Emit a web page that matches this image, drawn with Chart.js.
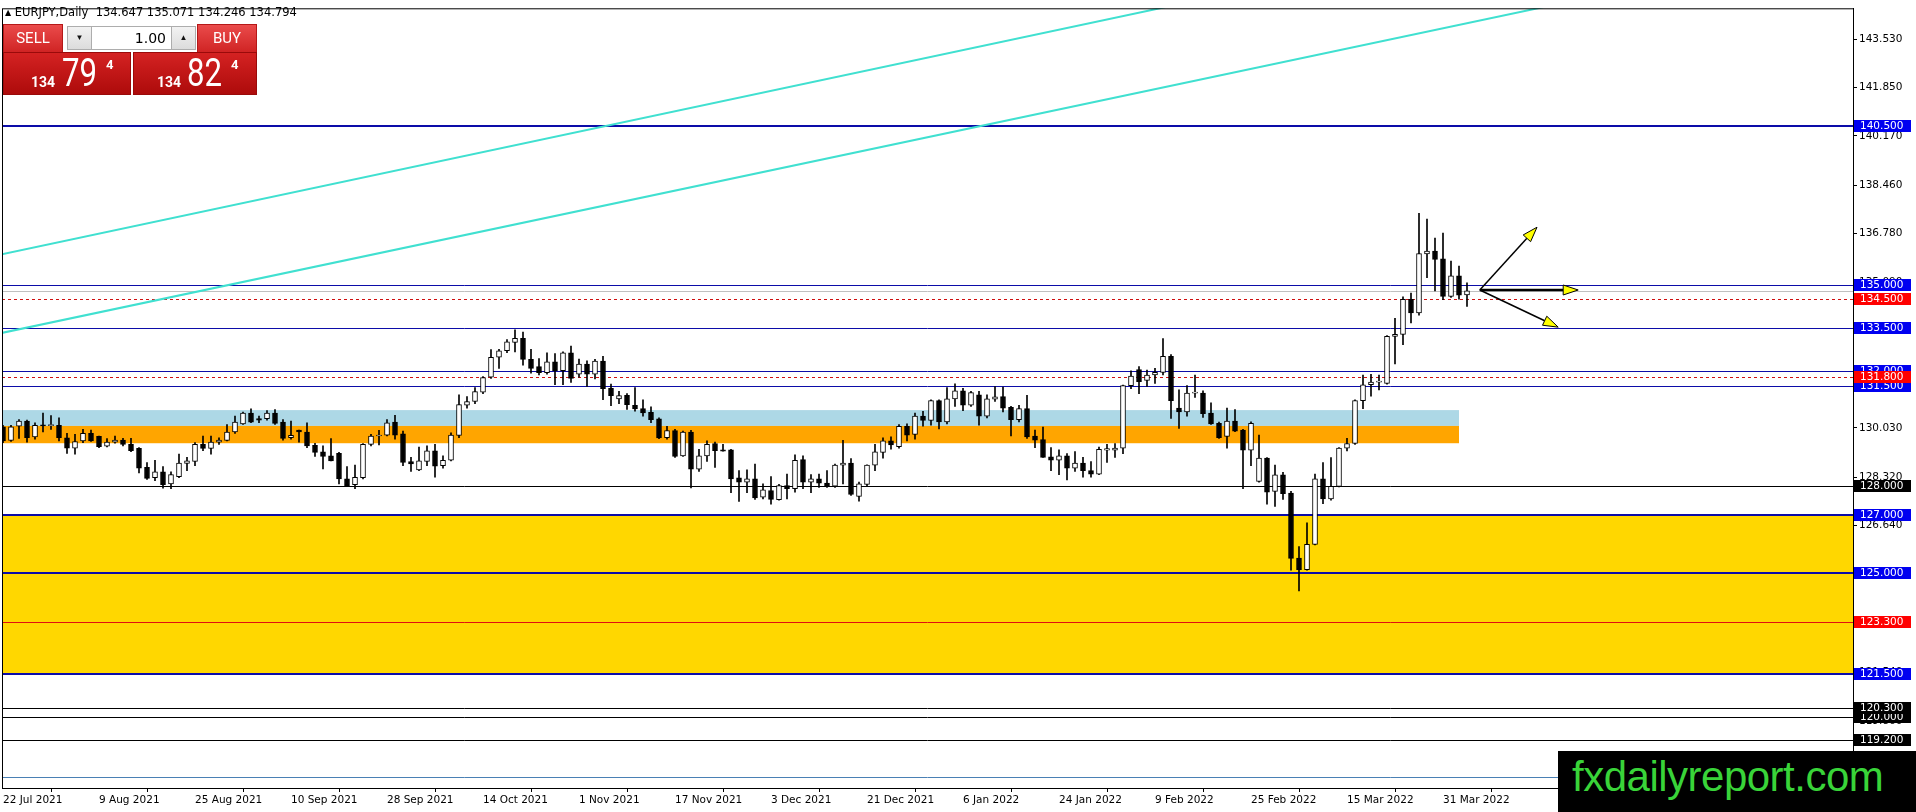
<!DOCTYPE html>
<html lang="en">
<head>
<meta charset="UTF-8">
<title>EURJPY Daily</title>
<script src="https://cdn.jsdelivr.net/npm/chart.js"></script>
<style>
  body { margin: 0; padding: 0; background: #fff; }
  #wrap { position: relative; width: 1916px; height: 812px; overflow: hidden; }
  #wrap canvas { position: absolute; left: 0; top: 0; }
  .hdr { position: absolute; left: 5px; top: 5px; font: 11.5px "DejaVu Sans", sans-serif; color: #000; white-space: pre; }
  .hdr .tri { font-size: 8px; position: relative; top: -1px; }
  .abs { position: absolute; box-sizing: border-box; }
  .btn { background: linear-gradient(#ea4b4b, #d02424); color: #fff; font: 15px Roboto, sans-serif;
         text-align: center; line-height: 27px; border: 1px solid #b51818; border-bottom: 1px solid #f2a3a3; }
  .spin { background: linear-gradient(#f2f2f2, #dcdcdc); border: 1px solid #adadad; font-size: 8px; text-align: center; line-height: 22px; color: #111; }
  .lot { background: #fff; border-top: 1px solid #adadad; border-bottom: 1px solid #adadad; font: 14px "DejaVu Sans", sans-serif;
         text-align: right; padding-right: 6px; line-height: 22px; color: #000; }
  .pbox { background: linear-gradient(#d42222, #ad0b0b); border: 1px solid #9a0a0a; }
  .pt { position: absolute; color: #fff; font-family: Roboto, sans-serif; white-space: pre; }
  .small { font-size: 14px; font-weight: bold; }
  .big { font-size: 39px; transform: scaleX(0.8); transform-origin: left top; }
  .sup { font-size: 13px; font-weight: bold; }
  .wm { position: absolute; left: 1558px; top: 751px; width: 358px; height: 61px; background: #000; }
  .wm span { position: absolute; left: 14px; top: 0; font: 42px "Liberation Sans", Arial, sans-serif; color: #39d439; line-height: 52px; letter-spacing: -0.5px; }
</style>
</head>
<body>
<div id="wrap">
  <canvas id="chart" width="1916" height="812"></canvas>

  <div class="hdr"><span class="tri">▲</span> EURJPY,Daily  134.647 135.071 134.246 134.794</div>

  <!-- panel de operación en un clic -->
  <div class="abs btn" style="left:3px;top:24px;width:60px;height:29px;">SELL</div>
  <div class="abs spin" style="left:67px;top:26px;width:25px;height:24px;">▼</div>
  <div class="abs lot" style="left:92px;top:26px;width:80px;height:24px;">1.00</div>
  <div class="abs spin" style="left:171px;top:26px;width:25px;height:24px;">▲</div>
  <div class="abs btn" style="left:197px;top:24px;width:60px;height:29px;">BUY</div>
  <div class="abs pbox" style="left:3px;top:52px;width:128px;height:43px;"></div>
  <div class="abs pbox" style="left:133px;top:52px;width:124px;height:43px;"></div>
  <span class="pt small" style="left:31px;top:74px;">134</span>
  <span class="pt big" style="left:62px;top:50px;">79</span>
  <span class="pt sup" style="left:106px;top:57px;">4</span>
  <span class="pt small" style="left:157px;top:74px;">134</span>
  <span class="pt big" style="left:187px;top:50px;">82</span>
  <span class="pt sup" style="left:231px;top:57px;">4</span>

  <div class="wm"><span>fxdailyreport.com</span></div>
</div>

<script>
// Fechas del eje X (una etiqueta cada 12 velas)
const dateLabels = ['22 Jul 2021', '9 Aug 2021', '25 Aug 2021', '10 Sep 2021', '28 Sep 2021', '14 Oct 2021',
  '1 Nov 2021', '17 Nov 2021', '3 Dec 2021', '21 Dec 2021', '6 Jan 2022', '24 Jan 2022',
  '9 Feb 2022', '25 Feb 2022', '15 Mar 2022', '31 Mar 2022'];
const labelEvery = 12;

// Velas diarias EURJPY
const opens = [130.07,129.60,130.09,130.27,129.72,130.12,130.11,130.12,129.69,129.33,129.58,129.84,129.74,129.40,129.54,129.61,129.46,129.32,128.66,128.30,
  128.51,128.09,128.34,128.80,128.87,129.46,129.32,129.54,129.60,129.89,130.17,130.55,130.36,130.35,130.55,130.23,129.69,129.96,129.89,129.43,
  129.20,129.06,129.15,128.26,128.06,128.30,129.46,129.75,129.78,130.23,129.83,128.86,128.57,128.87,129.24,128.72,128.91,129.77,130.82,130.95,
  131.27,131.79,132.49,132.71,133.00,133.14,132.41,132.16,131.95,132.33,132.02,132.64,131.90,132.25,131.90,132.35,131.41,131.04,131.16,130.82,
  130.70,130.57,130.35,129.69,129.94,129.06,129.89,128.60,129.06,129.49,129.27,129.27,128.30,128.15,128.26,127.63,127.86,127.54,128.03,127.92,
  128.93,128.15,128.26,128.12,128.01,128.74,128.81,127.65,128.07,128.74,129.18,129.58,129.38,130.09,129.81,130.44,130.29,130.98,130.24,131.04,
  131.32,130.82,131.18,130.44,131.03,131.12,130.75,130.32,130.70,129.75,129.63,129.03,128.91,129.06,128.63,128.81,128.55,128.43,129.26,129.26,
  129.33,131.50,132.06,131.68,131.87,131.96,132.52,130.72,130.59,131.24,131.24,130.55,130.19,129.74,130.27,129.96,129.26,128.17,128.98,127.83,
  128.40,127.77,125.51,125.11,125.99,128.26,127.57,128.00,129.33,129.49,130.98,131.53,131.62,131.58,133.21,133.28,134.50,134.02,136.07,136.17,
  135.90,134.60,135.31,134.647];
const highs = [130.12,130.12,130.32,130.30,130.21,130.55,130.46,130.38,129.84,129.81,129.98,129.96,129.75,129.66,129.75,129.67,129.67,129.35,128.83,128.91,
  128.69,128.51,129.12,129.01,129.52,129.75,129.75,129.69,130.15,130.44,130.58,130.69,130.44,130.63,130.67,130.32,130.27,129.96,130.21,129.50,
  129.41,129.66,129.18,128.69,128.74,129.49,129.81,129.95,130.32,130.47,129.92,129.01,129.37,129.41,129.46,129.06,129.86,131.18,131.12,131.43,
  131.81,132.75,132.76,133.10,133.44,133.36,132.76,132.44,132.64,132.61,132.67,132.87,132.42,132.36,132.41,132.52,131.55,131.30,131.22,131.43,
  131.01,130.76,130.38,130.09,129.98,129.92,129.95,129.29,129.58,129.54,129.46,129.29,128.55,128.58,128.78,128.09,128.34,128.07,128.43,129.10,
  129.06,128.41,128.43,128.55,128.78,129.60,128.97,128.15,128.75,129.46,129.69,129.72,130.15,130.17,130.55,130.61,131.01,131.01,131.43,131.56,
  131.41,131.30,131.30,131.18,131.47,131.45,130.78,130.82,131.16,129.96,130.06,129.35,129.27,129.14,129.21,129.01,128.86,129.37,129.46,129.49,
  131.52,132.01,132.16,132.04,132.10,133.13,132.58,131.35,131.50,131.87,131.32,130.90,130.23,130.72,130.67,129.98,130.24,129.78,129.00,128.74,
  128.49,127.83,125.91,126.74,128.43,128.83,129.00,129.35,129.67,131.01,131.87,131.89,131.87,133.24,133.84,134.58,134.71,137.48,137.28,136.62,
  136.80,135.82,135.65,135.071];
const lows = [129.52,129.56,129.67,129.54,129.64,129.89,129.98,129.58,129.15,129.12,129.52,129.56,129.35,129.37,129.50,129.41,129.21,128.47,128.24,128.20,
  127.94,127.92,128.30,128.55,128.72,129.24,129.12,129.46,129.58,129.84,130.15,130.21,130.21,130.30,130.15,129.61,129.64,129.54,129.35,129.04,
  128.61,128.89,128.09,128.01,127.92,128.26,129.41,129.44,129.75,129.64,128.72,128.52,128.55,128.72,128.32,128.63,128.89,129.69,130.72,130.87,
  131.22,131.75,132.10,132.64,132.67,132.21,131.93,131.87,131.90,131.53,131.53,131.61,131.79,131.47,131.73,131.01,130.80,130.87,130.67,130.61,
  130.44,130.21,129.66,129.64,129.01,129.04,127.95,128.52,128.87,128.66,129.22,127.78,127.48,127.78,127.55,127.57,127.38,127.52,127.57,127.80,
  127.92,127.78,127.97,127.97,127.97,128.09,127.69,127.49,128.01,128.55,128.98,129.29,129.33,129.58,129.64,130.09,130.13,130.00,130.17,130.78,
  130.63,130.78,130.13,130.38,130.95,130.59,129.75,130.24,129.67,129.35,129.01,128.55,128.41,128.23,128.52,128.32,128.32,128.41,128.83,129.01,
  129.14,131.39,131.22,131.47,131.58,131.87,130.36,130.01,130.44,131.09,130.40,130.15,129.67,129.33,129.90,127.92,128.72,128.15,127.38,127.31,
  127.55,125.09,124.37,125.09,125.97,127.40,127.52,127.98,129.23,129.46,130.70,131.13,131.35,131.55,132.25,132.92,133.68,133.95,135.25,134.79,
  134.48,134.56,134.50,134.246];
const closes = [129.58,130.07,130.27,129.69,130.12,130.10,130.12,129.69,129.33,129.56,129.84,129.58,129.38,129.54,129.61,129.46,129.24,128.63,128.28,128.51,
  128.06,128.41,128.81,128.89,129.46,129.32,129.54,129.61,129.89,130.23,130.55,130.23,130.30,130.55,130.19,129.67,129.77,129.89,129.41,129.18,
  129.04,128.89,128.26,128.03,128.32,129.46,129.75,129.78,130.21,129.78,128.83,128.78,128.89,129.24,128.70,128.91,129.78,130.84,130.95,131.29,
  131.78,132.48,132.71,133.02,133.14,132.41,132.10,131.95,132.33,132.02,132.64,131.75,132.25,131.90,132.35,131.39,131.15,131.15,130.84,130.69,
  130.55,130.32,129.68,129.94,129.04,129.89,128.60,129.06,129.46,129.24,129.22,128.26,128.15,128.26,127.60,127.88,127.55,128.03,127.92,128.91,
  128.15,128.26,128.11,128.01,128.74,128.81,127.72,128.09,128.74,129.20,129.58,129.44,130.09,129.78,130.44,130.29,130.98,130.24,131.04,131.32,
  130.82,131.26,130.44,131.04,131.11,130.72,130.32,130.70,129.72,129.61,129.01,128.91,129.06,128.63,128.81,128.55,128.43,129.29,129.31,129.33,
  131.50,131.83,131.64,131.87,131.96,132.52,130.98,130.59,131.24,131.25,130.53,130.17,129.69,130.27,129.92,129.26,130.19,128.98,127.80,128.40,
  127.75,125.50,125.11,125.99,128.26,127.57,128.00,129.33,129.49,130.98,131.53,131.62,131.62,133.21,133.28,134.50,134.02,136.08,136.17,135.88,
  134.60,135.31,134.64,134.794];

// Escala de precios (eje derecho)
const priceTicks = [143.53, 141.85, 140.17, 138.46, 136.78, 135.09, 133.38, 131.69, 130.03, 128.32, 126.64, 124.93, 123.25, 121.54, 119.86, 118.15];

// Líneas horizontales
const levelPrices = [140.5, 135.0, 134.794, 134.5, 133.5, 132.0, 131.5, 131.8, 128.0, 127.0, 125.0, 123.3, 121.5, 120.0, 120.3, 119.2, 117.9];
const levelColors = ['#0c0ca8', '#0c0ca8', '#c0c0c0', '#d01010', '#0c0ca8', '#0c0ca8', '#0c0ca8', '#d01010', '#000000', '#0c0ca8', '#0c0ca8', '#e01010', '#0c0ca8', '#000000', '#000000', '#000000', '#4a80b4'];
const levelWidths = [2, 1, 1, 1, 1, 1, 1, 1, 1, 2, 2, 1, 2, 1, 1, 1, 1];
const levelDashed = [false, false, false, true, false, false, false, true, false, false, false, false, false, false, false, false, false];
const levelTagColors = ['#0000f0', '#0000f0', null, '#ff0000', '#0000f0', '#0000f0', '#0000f0', '#ff0000', '#000000', '#0000f0', '#0000f0', '#ff0000', '#0000f0', '#000000', '#000000', '#000000', null];

// Zonas (rectángulos)
const zoneTops = [127.0, 130.65, 130.1];
const zoneBottoms = [121.5, 130.1, 129.5];
const zoneEnds = [231.25, 182, 182];
const zoneColors = ['#ffd700', '#add8e6', '#ffa500'];

// Canal (líneas de tendencia)
const trendX = [-1, 200];
const trendUpper = [136.01, 147.87];
const trendLower = [133.28, 145.08];

// Flechas de escenario
const arrowStart = [184.6, 134.82];
const arrowEndX = [191.75, 196.9, 194.4];
const arrowEndY = [137.0, 134.82, 133.53];
const arrowWidths = [1.5, 2.5, 1.5];

const idx = opens.map((_, i) => i);
const wickData = idx.map(i => ({ x: i, y: [lows[i], highs[i]] }));
const bodyData = idx.map(i => ({ x: i, y: [opens[i], closes[i]] }));
const bodyColors = idx.map(i => closes[i] >= opens[i] ? '#ffffff' : '#000000');

// Zonas y líneas horizontales por debajo de las velas
const levelsPlugin = {
  id: 'levels',
  beforeDatasetsDraw(chart) {
    const { ctx, chartArea: a, scales: { x, y } } = chart;
    ctx.save();
    ctx.beginPath();
    ctx.rect(a.left, a.top, a.right - a.left, a.bottom - a.top);
    ctx.clip();
    zoneTops.forEach((t, k) => {
      const yt = y.getPixelForValue(t), yb = y.getPixelForValue(zoneBottoms[k]);
      const xr = x.getPixelForValue(zoneEnds[k]);
      ctx.fillStyle = zoneColors[k];
      ctx.fillRect(a.left, yt, xr - a.left, yb - yt);
    });
    levelPrices.forEach((p, k) => {
      const w = levelWidths[k];
      let py = Math.round(y.getPixelForValue(p));
      if (w % 2) py += 0.5;
      ctx.beginPath();
      ctx.strokeStyle = levelColors[k];
      ctx.lineWidth = w;
      ctx.setLineDash(levelDashed[k] ? [3, 3] : []);
      ctx.moveTo(a.left, py);
      ctx.lineTo(a.right, py);
      ctx.stroke();
    });
    ctx.restore();
  }
};

// Flechas, marco y etiquetas de precio
const overlayPlugin = {
  id: 'overlay',
  afterDatasetsDraw(chart) {
    const { ctx, scales: { x, y } } = chart;
    const x0 = x.getPixelForValue(arrowStart[0]), y0 = y.getPixelForValue(arrowStart[1]);
    ctx.save();
    arrowEndX.forEach((ex, k) => {
      const x1 = x.getPixelForValue(ex), y1 = y.getPixelForValue(arrowEndY[k]);
      const ang = Math.atan2(y1 - y0, x1 - x0);
      const len = 15, half = 5;
      const bx = x1 - len * Math.cos(ang), by = y1 - len * Math.sin(ang);
      ctx.beginPath();
      ctx.strokeStyle = '#000';
      ctx.lineWidth = arrowWidths[k];
      ctx.moveTo(x0, y0);
      ctx.lineTo(bx, by);
      ctx.stroke();
      ctx.beginPath();
      ctx.moveTo(x1, y1);
      ctx.lineTo(bx + half * Math.sin(ang), by - half * Math.cos(ang));
      ctx.lineTo(bx - half * Math.sin(ang), by + half * Math.cos(ang));
      ctx.closePath();
      ctx.fillStyle = '#ffff00';
      ctx.fill();
      ctx.lineWidth = 1;
      ctx.stroke();
    });
    ctx.restore();
  },
  afterDraw(chart) {
    const { ctx, chartArea: a, scales: { y } } = chart;
    ctx.save();
    ctx.strokeStyle = '#000';
    ctx.lineWidth = 1;
    ctx.strokeRect(a.left + 0.5, a.top + 0.5, a.right - a.left, a.bottom - a.top);
    ctx.font = '10.5px "DejaVu Sans", sans-serif';
    ctx.textBaseline = 'middle';
    levelPrices.forEach((p, k) => {
      if (!levelTagColors[k]) return;
      const py = Math.round(y.getPixelForValue(p));
      ctx.fillStyle = levelTagColors[k];
      ctx.fillRect(a.right + 1, py - 6, 57, 12);
      ctx.fillStyle = '#fff';
      ctx.fillText(p.toFixed(3), a.right + 7, py + 0.5);
    });
    ctx.restore();
  }
};

const ctx = document.getElementById('chart').getContext('2d');
const chart = new Chart(ctx, {
  type: 'bar',
  data: {
    datasets: [
      {
        type: 'line', data: trendX.map((v, k) => ({ x: v, y: trendUpper[k] })),
        borderColor: '#40e0d0', borderWidth: 2, pointRadius: 0, order: 5
      },
      {
        type: 'line', data: trendX.map((v, k) => ({ x: v, y: trendLower[k] })),
        borderColor: '#40e0d0', borderWidth: 2, pointRadius: 0, order: 4
      },
      {
        data: wickData, backgroundColor: '#000', barThickness: 1, grouped: false, order: 2
      },
      {
        data: bodyData, backgroundColor: bodyColors, borderColor: '#000', borderWidth: 1,
        borderSkipped: false, barThickness: 5, minBarLength: 1, grouped: false, order: 1
      }
    ]
  },
  options: {
    responsive: false,
    devicePixelRatio: 1,
    animation: false,
    layout: { padding: { left: 2, top: 3, right: 0, bottom: 0 } },
    plugins: { legend: { display: false }, tooltip: { enabled: false } },
    scales: {
      x: {
        type: 'linear', min: -0.125, max: 231.25, offset: false,
        afterFit: s => { s.height = 24; },
        afterBuildTicks: s => { s.ticks = dateLabels.map((_, k) => ({ value: k * labelEvery })); },
        grid: { display: true, drawOnChartArea: false, tickLength: 4, color: '#000' },
        border: { display: true, color: '#000' },
        ticks: {
          autoSkip: false, maxRotation: 0, align: 'start', padding: 2, color: '#000',
          font: { family: '"DejaVu Sans", sans-serif', size: 10.5 },
          callback: v => dateLabels[Math.round(v / labelEvery)]
        }
      },
      y: {
        position: 'right', min: 117.53, max: 144.6,
        afterFit: s => { s.width = 63; },
        afterBuildTicks: s => { s.ticks = priceTicks.map(v => ({ value: v })); },
        grid: { display: true, drawOnChartArea: false, tickLength: 4, color: '#000' },
        border: { display: true, color: '#000' },
        ticks: {
          autoSkip: false, padding: 2, color: '#000',
          font: { family: '"DejaVu Sans", sans-serif', size: 10.5 },
          callback: v => Number(v).toFixed(3)
        }
      }
    }
  },
  plugins: [levelsPlugin, overlayPlugin]
});
</script>
</body>
</html>
